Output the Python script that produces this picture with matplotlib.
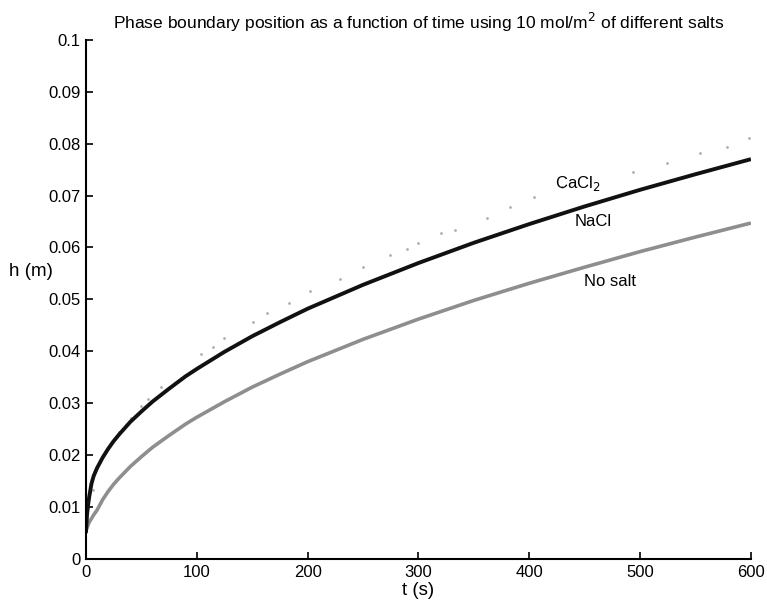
import numpy as np
import matplotlib.pyplot as plt

plt.rcParams['font.family'] = ['Liberation Sans', 'DejaVu Sans']

# values
t = [0, 1, 2, 3, 5, 7, 10, 15, 20, 25, 30, 40, 50, 60, 75, 90, 100, 125, 150, 175,
     200, 250, 300, 350, 400, 450, 500, 550, 600]
h_nacl = [0.0050, 0.0085, 0.0105, 0.0120, 0.0145, 0.0160, 0.0175, 0.0195, 0.0212, 0.0227,
          0.0240, 0.0264, 0.0284, 0.0303, 0.0328, 0.0352, 0.0366, 0.0399, 0.0429, 0.0456,
          0.0482, 0.0528, 0.0570, 0.0609, 0.0645, 0.0679, 0.0711, 0.0741, 0.0770]
h_nosalt = [0.0055, 0.0060, 0.0066, 0.0071, 0.0078, 0.0085, 0.0094, 0.0114, 0.0130, 0.0144,
            0.0156, 0.0178, 0.0197, 0.0215, 0.0238, 0.0260, 0.0273, 0.0303, 0.0331, 0.0356,
            0.0380, 0.0423, 0.0462, 0.0498, 0.0531, 0.0562, 0.0592, 0.0620, 0.0647]

# CaCl2 is drawn as sparse faint dots
t_cacl2 = [6, 23, 30, 41, 50, 56, 68, 104, 115, 125, 151, 163, 183, 202, 229, 250, 274,
           290, 300, 320, 333, 362, 383, 404, 430, 494, 524, 554, 578, 598]
h_cacl2 = [0.0133, 0.0224, 0.0245, 0.0272, 0.0295, 0.0308, 0.0331, 0.0395, 0.0409, 0.0426,
           0.0457, 0.0474, 0.0493, 0.0516, 0.0539, 0.0563, 0.0586, 0.0597, 0.0609, 0.0628,
           0.0634, 0.0657, 0.0678, 0.0697, 0.0717, 0.0746, 0.0763, 0.0782, 0.0794, 0.0810]

labels = ['CaCl$_2$', 'NaCl', 'No salt']
label_t = [423, 441, 449]
label_h = [0.0723, 0.0650, 0.0535]

fig = plt.figure(figsize=(7.67, 6.11), dpi=100)
ax = fig.add_axes([0.112, 0.085, 0.867, 0.85])

ax.plot(t_cacl2, h_cacl2, linestyle='none', marker='.', markersize=2, color='#b0b0b0')
ax.plot(t, h_nosalt, color='#8e8e8e', linewidth=2.6, solid_capstyle='butt')
ax.plot(t, h_nacl, color='#111111', linewidth=2.8, solid_capstyle='butt')

for lab, tx, hy in zip(labels, label_t, label_h):
    ax.text(tx, hy, lab, fontsize=12, ha='left', va='center')

ax.set_xlim(0, 600)
ax.set_ylim(0, 0.1)
ax.set_xticks(np.arange(0, 601, 100))
ax.set_yticks(np.arange(0, 0.1001, 0.01))
ax.set_yticklabels(['0', '0.01', '0.02', '0.03', '0.04', '0.05', '0.06', '0.07', '0.08', '0.09', '0.1'])
ax.tick_params(direction='in', length=5, width=1.2, labelsize=12, pad=4)
for s in ['top', 'right']:
    ax.spines[s].set_visible(False)
for s in ['left', 'bottom']:
    ax.spines[s].set_linewidth(1.5)

ax.set_title('Phase boundary position as a function of time using 10 mol/m$^2$ of different salts',
             fontsize=12.5, pad=8)
ax.set_xlabel('t (s)', fontsize=13.5, labelpad=2)
fig.text(0.012, (611 - 271) / 611, 'h (m)', fontsize=13.5, ha='left', va='center')

fig.savefig('out.png', dpi=100)
